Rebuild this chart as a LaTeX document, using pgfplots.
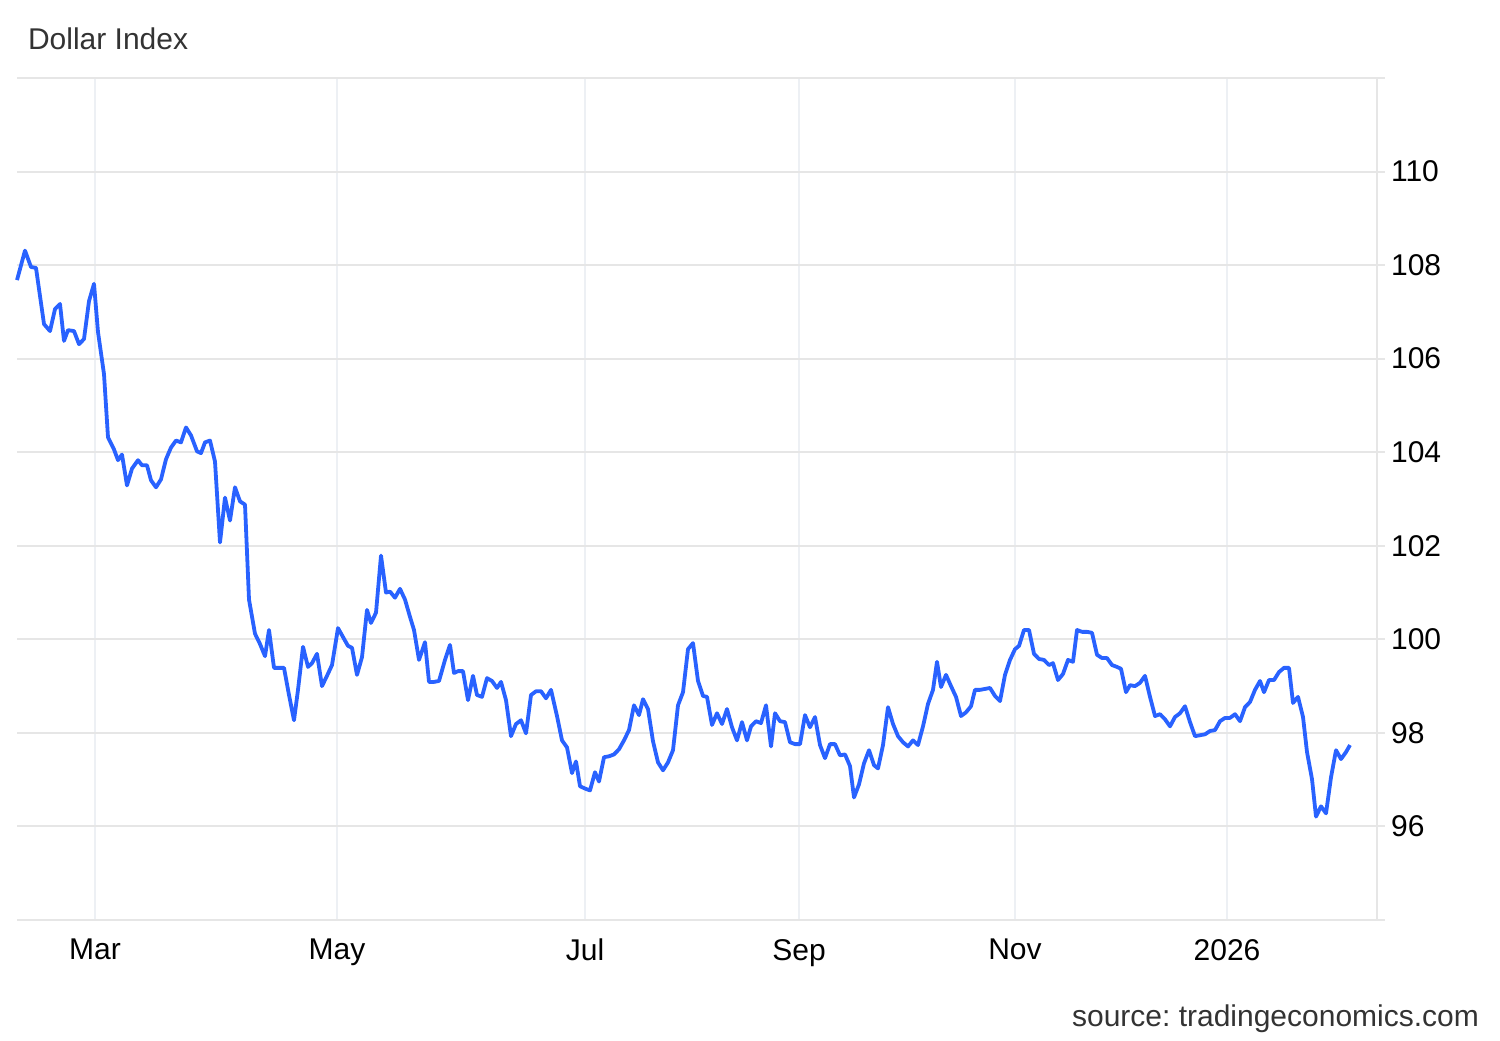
\documentclass[border=0pt]{standalone}
\usepackage{fontspec}
\setmainfont{Liberation Sans}
\usepackage{pgfplots}
\pgfplotsset{compat=1.18}
\definecolor{lineblue}{RGB}{41,98,255}
\definecolor{hgrid}{RGB}{230,230,230}
\definecolor{vgrid}{RGB}{237,240,244}
\definecolor{txtgray}{RGB}{51,51,51}

\begin{document}
\begin{tikzpicture}
\begin{axis}[
    at={(0,0)}, anchor=south west,
    scale only axis,
    width=680pt, height=421pt,
    xmin=17, xmax=1377,
    ymin=94, ymax=112,
    axis line style={draw=none},
    xtick={95,337,585,799,1015,1227},
    xticklabels={Mar,May,Jul,Sep,Nov,2026},
    ytick={94,96,...,112},
    yticklabels={,96,98,100,102,104,106,108,110,},
    ytick pos=right,
    xtick style={draw=none},
    ytick style={draw=hgrid, line width=1pt},
    tick align=outside,
    major tick length=4pt,
    grid=major,
    x grid style={vgrid, line width=1pt},
    y grid style={hgrid, line width=1pt},
    tick label style={font=\fontsize{15}{18}\selectfont, text=black},
    yticklabel style={xshift=-0.5pt},
    xticklabel style={yshift=-2pt},
    clip=false,
]
\draw[hgrid, line width=1pt] (rel axis cs:1,0) -- (rel axis cs:1,1);
\addplot[lineblue, line width=1.9pt, line join=round, mark=none] coordinates {
(17,107.68) (25,108.31) (31,107.96) (36,107.94) (44,106.74) (50,106.59)
(55,107.06) (60,107.17) (64,106.38) (68,106.61) (74,106.59) (79,106.31)
(84,106.42) (89,107.23) (94,107.60) (98,106.57) (104,105.67) (108,104.32)
(114,104.06) (118,103.83) (122,103.95) (127,103.29) (132,103.65) (138,103.83)
(142,103.72) (147,103.72) (151,103.40) (156,103.25) (161,103.42) (166,103.85)
(171,104.10) (176,104.25) (181,104.21) (186,104.53) (191,104.36) (197,104.02)
(201,103.98) (205,104.21) (210,104.25) (215,103.80) (220,102.07) (225,103.03)
(230,102.54) (235,103.25) (240,102.95) (245,102.88) (249,100.85) (255,100.12)
(260,99.90) (265,99.64) (269,100.20) (274,99.39) (279,99.39) (284,99.39)
(289,98.81) (294,98.27) (298,98.92) (303,99.84) (308,99.41) (312,99.49)
(317,99.69) (322,99.00) (327,99.22) (332,99.45) (338,100.24) (343,100.05)
(348,99.86) (352,99.82) (357,99.24) (362,99.62) (367,100.63) (371,100.35)
(376,100.57) (381,101.79) (386,101.00) (390,101.02) (395,100.89) (400,101.08)
(405,100.85) (410,100.48) (414,100.20) (419,99.56) (425,99.94) (429,99.09)
(434,99.09) (439,99.11) (445,99.56) (450,99.88) (454,99.28) (458,99.32)
(463,99.32) (468,98.70) (473,99.22) (477,98.81) (482,98.77) (487,99.17)
(492,99.11) (497,98.96) (501,99.09) (506,98.70) (511,97.93) (516,98.19)
(521,98.27) (526,97.99) (531,98.81) (536,98.89) (541,98.89) (546,98.74)
(551,98.92) (557,98.36) (562,97.84) (567,97.69) (572,97.14) (576,97.39)
(580,96.86) (585,96.81) (590,96.77) (595,97.16) (599,96.96) (604,97.48)
(609,97.50) (614,97.54) (619,97.65) (624,97.84) (629,98.06) (634,98.59)
(639,98.38) (643,98.72) (648,98.51) (653,97.82) (658,97.37) (663,97.20)
(668,97.37) (673,97.63) (678,98.59) (683,98.87) (688,99.79) (693,99.92)
(698,99.11) (703,98.79) (707,98.77) (712,98.17) (717,98.42) (722,98.19)
(727,98.51) (732,98.12) (737,97.84) (742,98.23) (747,97.84) (751,98.14)
(756,98.25) (761,98.21) (766,98.59) (771,97.71) (775,98.42) (780,98.25)
(785,98.23) (790,97.80) (795,97.76) (800,97.76) (805,98.38) (810,98.12)
(815,98.34) (820,97.74) (825,97.46) (830,97.76) (835,97.76) (840,97.52)
(845,97.54) (850,97.29) (854,96.62) (859,96.90) (864,97.35) (869,97.63)
(874,97.31) (878,97.24) (883,97.74) (888,98.55) (893,98.19) (898,97.93)
(903,97.80) (908,97.71) (913,97.84) (918,97.74) (923,98.14) (928,98.62)
(933,98.92) (937,99.52) (941,98.98) (946,99.24) (951,99.00) (956,98.77)
(961,98.36) (966,98.44) (971,98.57) (975,98.92) (980,98.92) (985,98.94)
(990,98.96) (995,98.79) (1000,98.68) (1005,99.24) (1010,99.56) (1015,99.79)
(1019,99.86) (1024,100.20) (1029,100.20) (1034,99.69) (1039,99.58) (1044,99.56)
(1049,99.45) (1053,99.49) (1058,99.13) (1063,99.26) (1068,99.56) (1073,99.52)
(1077,100.20) (1082,100.16) (1087,100.16) (1092,100.14) (1097,99.67) (1102,99.60)
(1107,99.60) (1112,99.45) (1117,99.41) (1121,99.37) (1126,98.87) (1130,99.02)
(1135,99.00) (1140,99.07) (1145,99.22) (1150,98.77) (1155,98.36) (1160,98.40)
(1165,98.29) (1170,98.14) (1175,98.34) (1180,98.42) (1185,98.57) (1190,98.23)
(1195,97.93) (1200,97.95) (1205,97.97) (1210,98.04) (1215,98.06) (1220,98.25)
(1225,98.32) (1230,98.32) (1235,98.40) (1240,98.25) (1245,98.55) (1250,98.66)
(1255,98.92) (1260,99.11) (1264,98.87) (1269,99.13) (1274,99.13) (1279,99.30)
(1284,99.39) (1289,99.39) (1293,98.64) (1298,98.77) (1303,98.34) (1307,97.59)
(1312,97.01) (1316,96.21) (1321,96.43) (1326,96.28) (1331,97.05) (1336,97.63)
(1341,97.44) (1346,97.59) (1350,97.74)
};
\node[anchor=base west, text=txtgray, font=\fontsize{15}{18}\selectfont]
    at ([xshift=2pt, yshift=14pt]rel axis cs:0,1) {Dollar Index};
\node[anchor=base east, text=txtgray, font=\fontsize{15}{18}\selectfont]
    at ([xshift=54.5pt, yshift=-53pt]rel axis cs:1,0) {source:\ tradingeconomics.com};
\end{axis}
\path[use as bounding box] (-8.5pt,-60pt) rectangle (741.5pt,460pt);
\end{tikzpicture}
\end{document}
